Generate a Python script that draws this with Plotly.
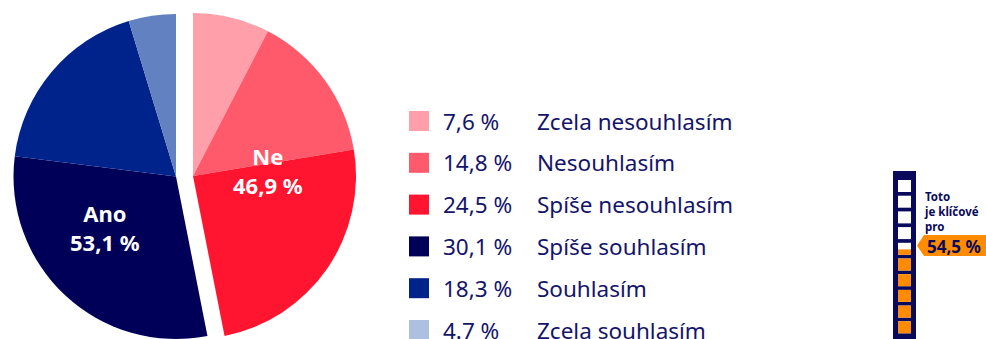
import plotly.graph_objects as go

# --- data -----------------------------------------------------------------
categories = ["Zcela nesouhlasím", "Nesouhlasím", "Spíše nesouhlasím",
              "Spíše souhlasím", "Souhlasím", "Zcela souhlasím"]
shares = [7.6, 14.8, 24.5, 30.1, 18.3, 4.7]
share_labels = ["7,6 %", "14,8 %", "24,5 %", "30,1 %", "18,3 %", "4.7 %"]
groups = ["Ne", "Ne", "Ne", "Ano", "Ano", "Ano"]
group_names = ["Ne", "Ano"]
group_labels = ["46,9 %", "53,1 %"]

key_share = 54.5
key_label = "54,5 %"
key_caption = ["Toto", "je klíčové", "pro"]

# --- styling --------------------------------------------------------------
slice_colors = ["#FF9FAA", "#FF5A6C", "#FF1530", "#000058", "#00238B", "#6181C0"]
legend_colors = ["#FF9FAA", "#FF5A6C", "#FF1530", "#000058", "#00238B", "#AEC0E0"]
NAVY = "#14146B"
ICON_NAVY = "#0A0A5C"
ORANGE = "#FF8C00"
FONT = "Noto Sans"
W, H = 986, 339
CLEAR = "rgba(0,0,0,0)"

fig = go.Figure()

# Each half of the pie is its own trace, offset sideways to open a gap
# along the split line; the other half is drawn as a transparent slice.
half_geom = {
    "Ne": dict(cx=193, top=13, r=164),
    "Ano": dict(cx=176, top=14, r=165),
}
for g in group_names:
    idx = [i for i, gg in enumerate(groups) if gg == g]
    other = sum(s for s, gg in zip(shares, groups) if gg != g)
    labels = [categories[i] for i in idx]
    values = [shares[i] for i in idx]
    colors = [slice_colors[i] for i in idx]
    if g == "Ne":
        labels, values, colors = labels + ["_rest"], values + [other], colors + [CLEAR]
    else:
        labels, values, colors = ["_rest"] + labels, [other] + values, [CLEAR] + colors
    geo = half_geom[g]
    fig.add_trace(go.Pie(
        labels=labels, values=values, sort=False, direction="clockwise",
        rotation=0, textinfo="none", showlegend=False,
        marker=dict(colors=colors, line=dict(width=0)),
        hovertemplate="%{label}: %{value} %<extra></extra>",
        domain=dict(x=[(geo["cx"] - geo["r"]) / W, (geo["cx"] + geo["r"]) / W],
                    y=[0, 1 - geo["top"] / H]),
    ))

# Legend swatches on a pixel-scaled hidden cartesian layer
row_y0, row_step = 121, 41.8
rows_y = [row_y0 + i * row_step for i in range(len(categories))]
fig.add_trace(go.Scatter(
    x=[419] * len(categories), y=rows_y, mode="markers", showlegend=False,
    marker=dict(symbol="square", size=20, color=legend_colors, line=dict(width=0)),
    hoverinfo="skip",
))

annotations = []
for y, pl, cat in zip(rows_y, share_labels, categories):
    annotations.append(dict(x=441, y=y, text=pl, xanchor="left", yanchor="middle",
                            showarrow=False, font=dict(family=FONT, size=22.5, color=NAVY)))
    annotations.append(dict(x=535, y=y, text=cat, xanchor="left", yanchor="middle",
                            showarrow=False, font=dict(family=FONT, size=22.5, color=NAVY)))

# Group labels inside the pie halves
group_pos = {"Ne": (268, 170), "Ano": (105, 227)}
for g, gl in zip(group_names, group_labels):
    x, y = group_pos[g]
    annotations.append(dict(x=x, y=y, text=f"<b>{g}</b><br><b>{gl}</b>", showarrow=False,
                            xanchor="center", yanchor="middle", align="center",
                            font=dict(family=FONT, size=22, color="white")))

# Key indicator: a column of ten cells filled to the key share
shapes = [dict(type="rect", xref="x", yref="y", x0=893, x1=916, y0=171, y1=350,
               fillcolor=ICON_NAVY, line=dict(width=0))]
n_cells, cell_top0, cell_step, cell_h = 10, 180, 15.7, 12
for i in range(n_cells):
    top = cell_top0 + i * cell_step
    bottom = top + cell_h
    shapes.append(dict(type="rect", xref="x", yref="y", x0=898, x1=911, y0=top, y1=bottom,
                       fillcolor="white", line=dict(width=0)))
    j = n_cells - 1 - i
    filled = min(max(key_share / (100 / n_cells) - j, 0), 1)
    if filled > 0:
        shapes.append(dict(type="rect", xref="x", yref="y", x0=898, x1=911,
                           y0=bottom - filled * cell_h, y1=bottom,
                           fillcolor=ORANGE, line=dict(width=0)))

# Orange tag pointing at the column
shapes.append(dict(type="path", xref="x", yref="y",
                   path="M 917,245.5 L 924,235 L 986,235 L 986,256 L 924,256 Z",
                   fillcolor=ORANGE, line=dict(width=0)))
annotations.append(dict(x=954, y=246, text=f"<b>{key_label}</b>", showarrow=False,
                        xanchor="center", yanchor="middle",
                        font=dict(family=FONT, size=17, color=ICON_NAVY)))
annotations.append(dict(x=923, y=211, text="<br>".join(f"<b>{t}</b>" for t in key_caption),
                        showarrow=False, xanchor="left", yanchor="middle", align="left",
                        borderpad=0, font=dict(family=FONT, size=11.5, color=ICON_NAVY)))

fig.update_layout(
    width=W, height=H, margin=dict(l=0, r=0, t=0, b=0),
    paper_bgcolor="white", plot_bgcolor="white",
    xaxis=dict(range=[0, W], visible=False, fixedrange=True, domain=[0, 1]),
    yaxis=dict(range=[H, 0], visible=False, fixedrange=True, domain=[0, 1]),
    shapes=shapes, annotations=annotations, showlegend=False,
)

fig.write_html("out.html")
